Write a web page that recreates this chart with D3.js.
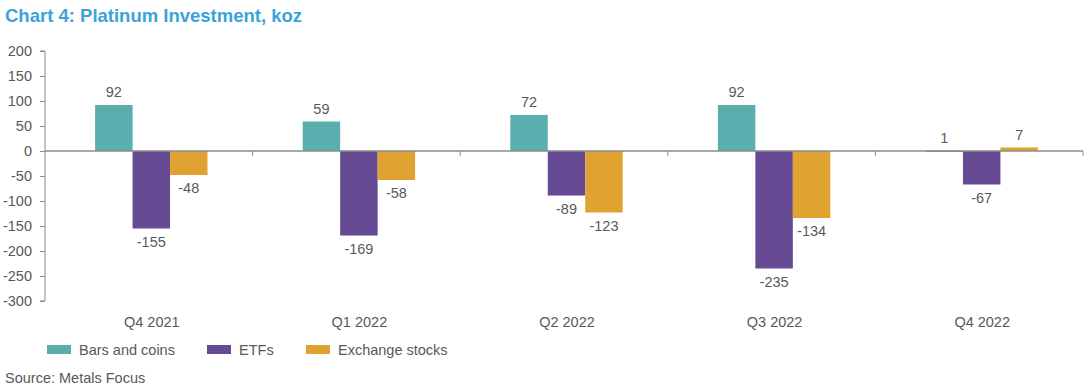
<!DOCTYPE html>
<html><head><meta charset="utf-8">
<script src="https://cdn.jsdelivr.net/npm/d3@7"></script>
<style>
body{margin:0;background:#fff;}
text{font-family:"Liberation Sans",Arial,sans-serif;}
</style></head>
<body><svg id="c" width="1090" height="392"></svg>
<script>
const categories = ["Q4 2021","Q1 2022","Q2 2022","Q3 2022","Q4 2022"];
const seriesNames = ["Bars and coins","ETFs","Exchange stocks"];
const barsCoins = [92,59,72,92,1];
const etfs = [-155,-169,-89,-235,-67];
const exchangeStocks = [-48,-58,-123,-134,7];
const yTicks = [200,150,100,50,0,-50,-100,-150,-200,-250,-300];
const colors = ["#5aaeae","#664a94","#e0a331"];
const series = [barsCoins, etfs, exchangeStocks];

(function(){
const svg = d3.select("#c");
const pLeft = 45, pRight = 1083, pTop = 51, pBottom = 301;
const textColor = "#595959";

svg.append("text").attr("x",5).attr("y",22).text("Chart 4: Platinum Investment, koz")
  .attr("fill","#3ba3d9").attr("font-weight","bold").attr("font-size",18.5);

const y = d3.scaleLinear().domain([-300,200]).range([pBottom, pTop]);
const x0 = d3.scaleBand().domain(categories).range([pLeft,pRight]).paddingInner(0).paddingOuter(0);
const x1 = d3.scaleBand().domain(seriesNames).range([2.5,x0.bandwidth()+2.5]).paddingInner(0).paddingOuter(1.27);

const yAxis = d3.axisLeft(y).tickValues(yTicks).tickSize(5).tickPadding(8).tickFormat(d => String(d));
const ya = svg.append("g").attr("transform",`translate(${pLeft},0)`).call(yAxis);
ya.select(".domain").attr("stroke","#8c8c8c").attr("d",`M-5,${pTop}H0V${pBottom}H-5`);
ya.selectAll(".tick line").attr("stroke","#8c8c8c");
ya.selectAll(".tick text").attr("fill",textColor).attr("font-size",14.5).attr("font-family","Liberation Sans, Arial, sans-serif");

categories.forEach((c,i)=>{
  series.forEach((s,j)=>{
    const v = s[i];
    const bx = x0(c)+x1(seriesNames[j]);
    svg.append("rect").attr("x",bx).attr("width",x1.bandwidth())
      .attr("y",Math.min(y(v),y(0))).attr("height",Math.max(Math.abs(y(v)-y(0)),1.5))
      .attr("fill",colors[j]);
    const ty = v>=0 ? y(v)-8 : y(v)+18;
    svg.append("text").attr("x",bx+x1.bandwidth()/2).attr("y",ty).attr("text-anchor","middle")
      .attr("fill",textColor).attr("font-size",14.5).text(v);
  });
});

svg.append("line").attr("x1",pLeft).attr("x2",pRight).attr("y1",y(0)).attr("y2",y(0)).attr("stroke","#8c8c8c").attr("stroke-width",1.3);
categories.forEach((c,i)=>{
  const bx = x0(c)+x0.bandwidth();
  svg.append("line").attr("x1",bx).attr("x2",bx).attr("y1",y(0)).attr("y2",y(0)+5).attr("stroke","#8c8c8c");
  svg.append("text").attr("x",x0(c)+x0.bandwidth()/2+3).attr("y",327).attr("text-anchor","middle")
    .attr("fill",textColor).attr("font-size",14.5).text(c);
});

const legX = [47,207,306];
seriesNames.forEach((n,j)=>{
  svg.append("rect").attr("x",legX[j]).attr("y",345).attr("width",24).attr("height",9).attr("fill",colors[j]);
  svg.append("text").attr("x",legX[j]+32).attr("y",355).attr("fill",textColor).attr("font-size",14.5).text(n);
});

svg.append("text").attr("x",5).attr("y",383).attr("fill",textColor).attr("font-size",14.5).text("Source: Metals Focus");
})();
</script></body></html>
